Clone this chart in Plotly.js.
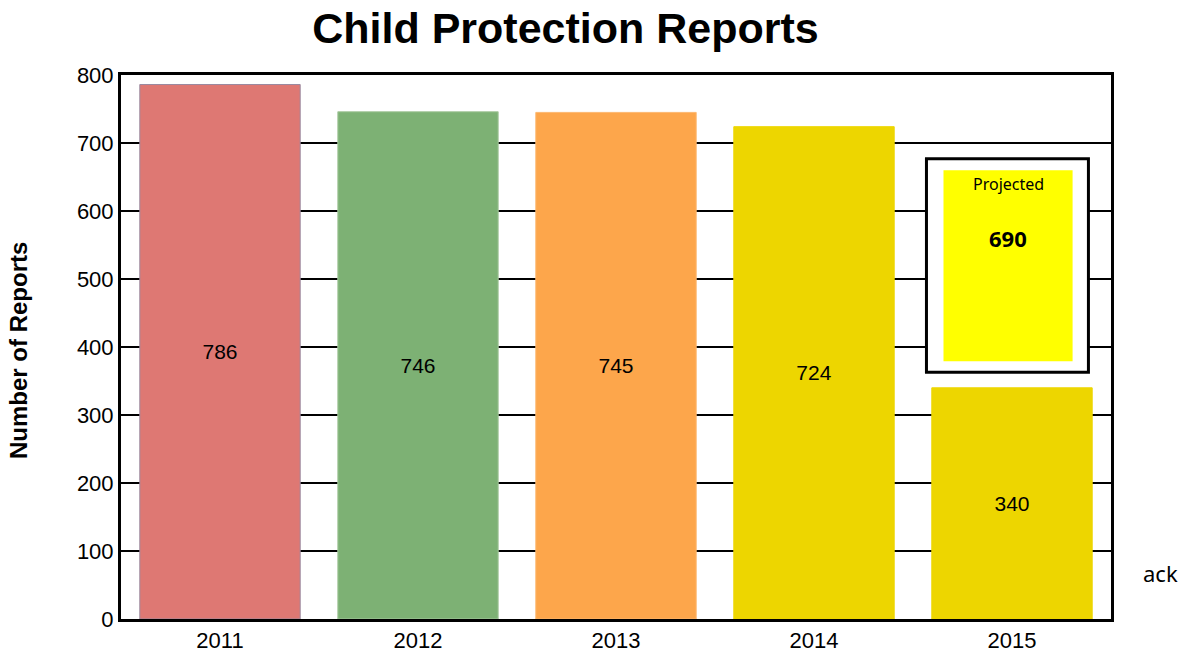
<!DOCTYPE html>
<html><head><meta charset="utf-8">
<script src="https://cdn.plot.ly/plotly-3.0.1.min.js"></script>
<style>html,body{margin:0;padding:0;background:#fff}#c{width:1188px;height:655px}</style>
</head><body><div id="c"></div>
<script>
const years = ['2011','2012','2013','2014','2015'];
const reports = [786, 746, 745, 724, 340];
const barColors = ['#DE7873','#7DB174','#FDA64B','#EDD600','#EDD600'];
const projectedLabel = 'Projected';
const projectedValue = 690;
const sideNote = 'ack';

const trace = {
  type: 'bar', x: years, y: reports,
  marker: {color: barColors, line: {color: ['#9a8aa0','#a9c9a0','#fdb870','#edd600','#edd600'], width: 1}},
  text: reports.map(String), textposition: 'inside', insidetextanchor: 'middle',
  textfont: {family: 'Liberation Sans, Arial', size: 21, color: '#000'},
  hoverinfo: 'none', cliponaxis: false
};

const layout = {
  width: 1188, height: 655,
  margin: {l: 121, r: 77, t: 75, b: 36},
  paper_bgcolor: '#fff', plot_bgcolor: '#fff',
  bargap: 0.19,
  showlegend: false,
  font: {family: 'Liberation Sans, Arial', color: '#000', size: 20},
  title: {text: '<b>Child Protection Reports</b>', font: {size: 43, family: 'Liberation Sans, Arial', color: '#000'},
          x: 0.476, xanchor: 'center', y: 1 - 28/655, yanchor: 'middle', yref: 'container'},
  xaxis: {type: 'category', showline: true, linecolor: '#000', linewidth: 3, mirror: true,
          ticks: '', tickfont: {size: 22}, showgrid: false, zeroline: false},
  yaxis: {range: [0, 800], dtick: 100, showline: true, linecolor: '#000', linewidth: 3, mirror: true,
          showgrid: true, gridcolor: '#000', gridwidth: 2, zeroline: false, ticks: '',
          tickfont: {size: 22}, ticklen: 0},
  shapes: [
    {type: 'rect', xref: 'x', yref: 'y', x0: 3.568, x1: 4.386, y0: 363, y1: 677,
     fillcolor: '#fff', line: {color: '#000', width: 3}, layer: 'above'},
    {type: 'rect', xref: 'x', yref: 'y', x0: 3.654, x1: 4.306, y0: 379, y1: 660,
     fillcolor: '#FFFF00', line: {width: 0}, layer: 'above'}
  ],
  annotations: [
    {xref: 'x', yref: 'y', x: 3.98, y: 639, text: projectedLabel, showarrow: false,
     font: {family: 'Noto Sans, Open Sans', size: 16, color: '#000'}},
    {xref: 'x', yref: 'y', x: 3.98, y: 560, text: '<b>' + projectedValue + '</b>', showarrow: false,
     font: {family: 'Noto Sans, Open Sans', size: 22, color: '#000'}},
    {xref: 'paper', yref: 'paper', x: (1160-121)/990, y: (619-573)/544, text: sideNote, showarrow: false,
     xanchor: 'center', yanchor: 'middle', font: {family: 'Noto Sans, Open Sans', size: 22, color: '#000'}},
    {xref: 'paper', yref: 'paper', x: (18-121)/990, y: (619-351)/544, text: '<b>Number of Reports</b>',
     textangle: -90, showarrow: false, xanchor: 'center', yanchor: 'middle',
     font: {family: 'Liberation Sans, Arial', size: 24, color: '#000'}}
  ]
};

Plotly.newPlot('c', [trace], layout, {staticPlot: true, displayModeBar: false});
</script></body></html>
